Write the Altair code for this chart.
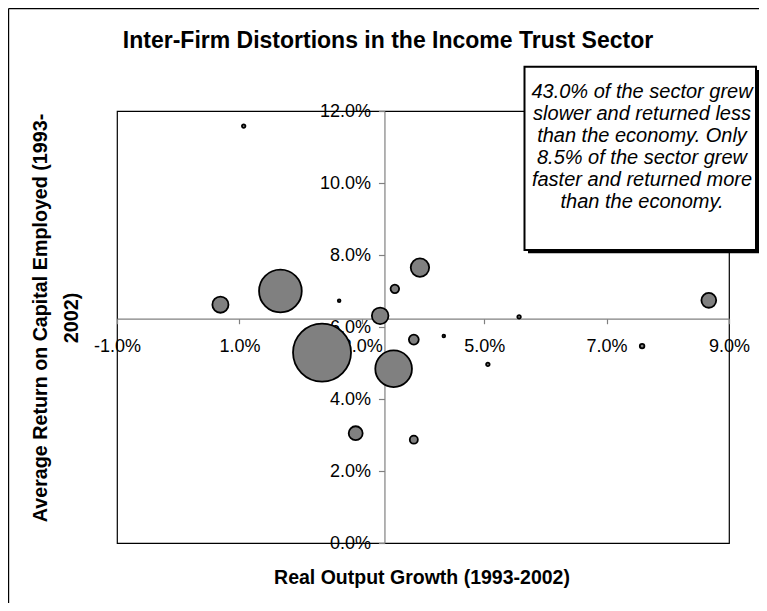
import altair as alt
import pandas as pd

# ---- data ----
growth = [0.69, 1.67, 2.63, 3.30, 3.54, 2.35, 3.52, 2.90, 1.07, 3.95, 5.57, 8.67, 3.85, 4.34, 7.58, 5.06, 3.85]
roce = [6.62, 7.00, 6.73, 6.31, 7.06, 5.29, 4.84, 3.05, 11.58, 7.65, 6.28, 6.74, 5.65, 5.75, 5.47, 4.96, 2.87]
share = [3.2, 22.5, 0.09, 3.4, 0.9, 41.5, 16.6, 2.4, 0.15, 4.2, 0.15, 2.7, 1.2, 0.09, 0.26, 0.15, 0.8]

ECON_GROWTH = 3.37   # where the vertical axis crosses
ECON_ROCE = 6.23     # where the horizontal axis crosses

X_TICKS = [-1, 1, 3, 5, 7, 9]
Y_TICKS = [0, 2, 4, 6, 8, 10, 12]
X_DOMAIN = [-1, 9]
Y_DOMAIN = [0, 12]

TITLE = "Inter-Firm Distortions in the Income Trust Sector"
X_TITLE = "Real Output Growth (1993-2002)"
Y_TITLE = ["Average Return on Capital Employed (1993-", "2002)"]
NOTE = ["43.0% of the sector grew", "slower and returned less",
        "than the economy.  Only", "8.5% of the sector grew",
        "faster and returned more", "than the economy."]

FONT = "Liberation Sans"
W, H = 612, 432
PAD = {"left": 109, "top": 103, "right": 30, "bottom": 60}

df = pd.DataFrame({"growth": growth, "roce": roce, "share": share})
one = pd.DataFrame({"k": [0]})

label_expr = "(datum.value < 0 ? '-' : '') + format(abs(datum.value), '.1f') + '%'"

x_off = -((ECON_ROCE - Y_DOMAIN[0]) / (Y_DOMAIN[1] - Y_DOMAIN[0]) * H)
y_off = -((ECON_GROWTH - X_DOMAIN[0]) / (X_DOMAIN[1] - X_DOMAIN[0]) * W)

# largest bubble: outer radius ~30 px (Vega circle radius = sqrt(size)/2)
MAX_R = 29

bubbles = alt.Chart(df).mark_point(
    shape="circle", filled=True, fill="#808080", stroke="black",
    strokeWidth=1.8, opacity=1, fillOpacity=1
).encode(
    x=alt.X("growth:Q", scale=alt.Scale(domain=X_DOMAIN, nice=False, zero=False),
            axis=alt.Axis(values=X_TICKS, labelExpr=label_expr, orient="bottom",
                          offset=x_off, tickSize=5, labelPadding=14, title=None,
                          labelOverlap=False, labelFlush=False)),
    y=alt.Y("roce:Q", scale=alt.Scale(domain=Y_DOMAIN, nice=False, zero=True),
            axis=alt.Axis(values=Y_TICKS, labelExpr=label_expr, orient="left",
                          offset=y_off, tickSize=6, labelPadding=8, title=None,
                          labelOverlap=False, labelFlush=False)),
    size=alt.Size("share:Q", scale=alt.Scale(domain=[0, 41.5], range=[0, 4 * MAX_R * MAX_R]),
                  legend=None),
    order=alt.Order("share:Q", sort="descending"),
)

frame_left = alt.Chart(one).mark_rule(color="black", strokeWidth=1.2).encode(
    x=alt.value(-108.4), y=alt.value(-102.4), y2=alt.value(H + PAD["bottom"]))
frame_top = alt.Chart(one).mark_rule(color="black", strokeWidth=1.2).encode(
    x=alt.value(-108.4), x2=alt.value(W + PAD["right"]), y=alt.value(-102.4))

shadow = alt.Chart(one).mark_rect(color="black").encode(
    x=alt.value(411), x2=alt.value(642), y=alt.value(-41), y2=alt.value(142.3))
box = alt.Chart(one).mark_rect(fill="white", stroke="black", strokeWidth=2).encode(
    x=alt.value(407.5), x2=alt.value(639), y=alt.value(-44.3), y2=alt.value(139))
note = alt.Chart(one).mark_text(
    text=NOTE, font=FONT, fontSize=20, fontStyle="italic", lineHeight=22,
    align="center", baseline="middle", color="black"
).encode(x=alt.value(525), y=alt.value(-19))

title = alt.Chart(one).mark_text(
    text=TITLE, font=FONT, fontSize=23, fontWeight="bold", align="center",
    baseline="alphabetic", color="black"
).encode(x=alt.value(271), y=alt.value(-62.7))

ytitle = alt.Chart(one).mark_text(
    text=Y_TITLE, font=FONT, fontSize=19.7, fontWeight="bold", angle=270,
    lineHeight=31, align="center", baseline="middle", color="black"
).encode(x=alt.value(-76), y=alt.value(207))

xtitle = alt.Chart(one).mark_text(
    text=X_TITLE, font=FONT, fontSize=19.5, fontWeight="bold", align="center",
    baseline="alphabetic", color="black"
).encode(x=alt.value(305), y=alt.value(473))

chart = alt.layer(
    frame_left, frame_top, bubbles, shadow, box, note, title, ytitle, xtitle
).properties(
    width=W, height=H, padding=PAD,
    autosize=alt.AutoSizeParams(type="none"),
    background="white",
).configure_view(
    stroke="black", strokeWidth=1.2
).configure_axis(
    domainColor="#808080", tickColor="#808080", domainWidth=1.2, tickWidth=1.2,
    labelFont=FONT, labelFontSize=18, labelColor="black", grid=False, zindex=1
)

chart.save("out.html", embed_options={"renderer": "svg", "actions": False})
